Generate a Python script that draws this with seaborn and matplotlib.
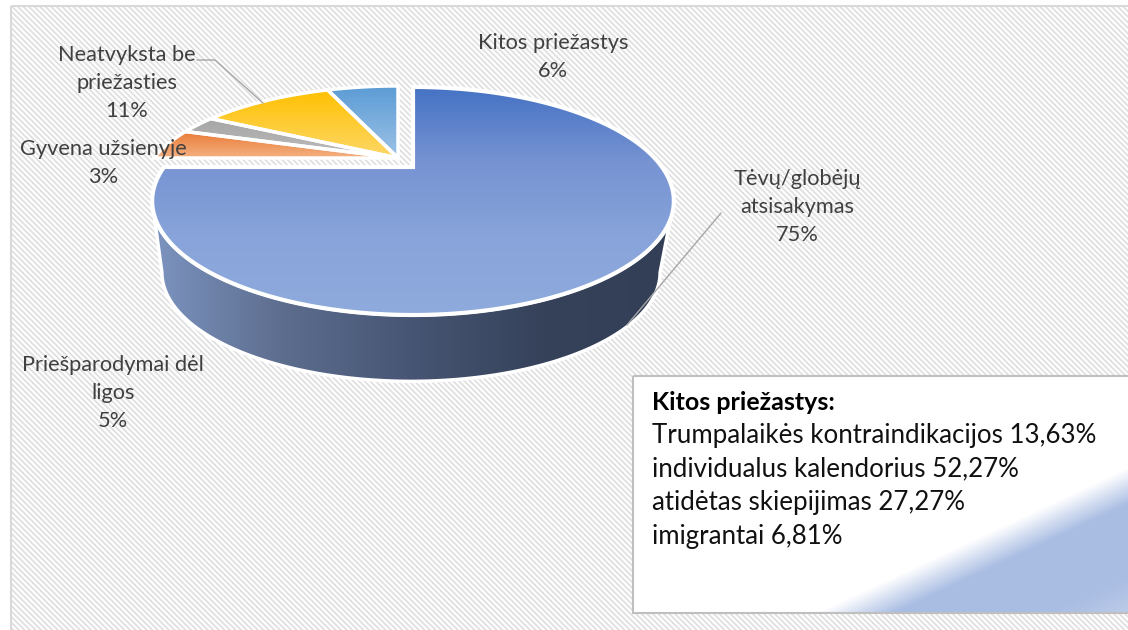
import numpy as np
import matplotlib.pyplot as plt
from matplotlib.patches import Polygon, Rectangle
import seaborn as sns

categories = ['Tėvų/globėjų\natsisakymas', 'Priešparodymai dėl\nligos', 'Gyvena užsienyje',
              'Neatvyksta be\npriežasties', 'Kitos priežastys']
values = [75, 5, 3, 11, 6]

box_title = 'Kitos priežastys:'
box_names = ['Trumpalaikės kontraindikacijos', 'individualus kalendorius',
             'atidėtas skiepijimas', 'imigrantai']
box_values = ['13,63%', '52,27%', '27,27%', '6,81%']

sns.set_theme(style='white')
plt.rcParams['font.family'] = ['Lato', 'DejaVu Sans']
plt.rcParams['hatch.linewidth'] = 1.3

# top-to-bottom gradient of each slice
slice_grads = [('#4472C4', '#7793D2', '#88A4DA', '#8FAADC'), ('#E97B35', '#F4B183'), ('#A5A5A5', '#BDBDBD'),
               ('#FFC000', '#FDD868'), ('#5B9BD5', '#9DC3E6')]
side_cmap = sns.blend_palette(['#7C94C0', '#5D6D8E', '#465573', '#36425A', '#333F56'], as_cmap=True)
box_cmap = sns.blend_palette(['#FFFFFF', '#A9BDE3', '#A9BDE3', '#A9BDE3', '#BCCBE8'], as_cmap=True)

fig = plt.figure(figsize=(11.28, 6.3), dpi=100)
ax = fig.add_axes([0, 0, 1, 1])
ax.set_xlim(0, 1128)
ax.set_ylim(630, 0)
ax.axis('off')


def project(frac, cx, cy, sx=1.0, sy=1.0):
    # circle seen in perspective, frac runs clockwise from the top
    a, b, k = 249, 103.9, 0.298
    X, Y = np.sin(2 * np.pi * frac), np.cos(2 * np.pi * frac)
    return cx + sx * a * X / (1 + k * Y), cy - sy * b * Y / (1 + k * Y)


def grad_fill(xs, ys, cmap, horizontal=False, z=2, lw=2.5):
    poly = Polygon(np.column_stack([xs, ys]), closed=True, facecolor='none', edgecolor='white',
                   linewidth=lw, zorder=z + 0.1)
    ax.add_patch(poly)
    g = np.linspace(0, 1, 256)
    g = g[None, :] if horizontal else g[:, None]
    im = ax.imshow(g, cmap=cmap, aspect='auto', zorder=z, interpolation='bilinear',
                   extent=[min(xs), max(xs), max(ys), min(ys)])
    im.set_clip_path(poly)


ax.add_patch(Rectangle((11, 6), 1130, 640, facecolor='white', edgecolor='#e0e0e0', linewidth=0,
                       hatch='\\\\\\\\\\\\', zorder=0))
ax.add_patch(Rectangle((11, 6), 1130, 640, facecolor='none', edgecolor='#d9d9d9',
                       linewidth=1.5, zorder=0.5))

# exploded small slices, behind the big one
edges = np.cumsum([0] + values) / sum(values)
for i in range(1, len(values)):
    f = np.linspace(edges[i], edges[i + 1], 40)
    x, y = project(f, 398, 158, 0.98, 0.9)
    grad_fill(np.r_[398, x], np.r_[158, y], sns.blend_palette(slice_grads[i], as_cmap=True), z=2)

# side wall of the big slice
k = 0.298
f = np.linspace(0.25 + np.arcsin(k) / (2 * np.pi), 0.75 - np.arcsin(k) / (2 * np.pi), 120)
tx, ty = project(f, 413, 167)
bx, by = project(f[::-1], 411, 240, 0.955, 0.955)
grad_fill(np.r_[tx, bx], np.r_[ty, by], side_cmap, horizontal=True, z=3)

# top of the big slice
f = np.linspace(edges[0], edges[1], 200)
x, y = project(f, 413, 167)
grad_fill(np.r_[413, x], np.r_[167, y], sns.blend_palette(slice_grads[0], as_cmap=True), z=4, lw=3)

# leader lines
ax.plot([197, 215, 263], [60, 60, 103], color='#a6a6a6', lw=1, zorder=5)
ax.plot([721, 627], [213, 325], color='#a6a6a6', lw=1, zorder=5)

# data labels
lab = dict(ha='center', va='center', fontsize=15.7, color='#404040', linespacing=1.48, zorder=6)
ax.text(797, 207, f'{categories[0]}\n{values[0]}%', **lab)
ax.text(113, 393, f'{categories[1]}\n{values[1]}%', **lab)
ax.text(103, 163, f'{categories[2]}\n{values[2]}%', **lab)
ax.text(127, 83, f'{categories[3]}\n{values[3]}%', **lab)
ax.text(553, 57, f'{categories[4]}\n{values[4]}%', **lab)

# text box with the gradient corner
bx0, bx1, by0, by1 = 633, 1128, 376, 613
yy, xx = np.mgrid[by0:by1, bx0:bx1]
t = ((xx - 817) * 145 + (yy - 612) * 311) / (70 * 145.0)
ax.add_patch(Rectangle((bx0, by0), bx1 - bx0 + 5, by1 - by0, facecolor='white', edgecolor='none', zorder=7))
ax.imshow(np.clip(t, 0, 4.44), cmap=box_cmap, vmin=0, vmax=4.44, aspect='auto', zorder=7.1,
          extent=[bx0, bx1, by1, by0])
ax.add_patch(Rectangle((bx0, by0), bx1 - bx0 + 5, by1 - by0, facecolor='none', edgecolor='#bfbfbf',
                       linewidth=1.5, zorder=7.2))
ax.set_xlim(0, 1128)
ax.set_ylim(630, 0)

ax.text(652, 402, box_title, fontsize=18, fontweight='bold', color='black', va='center', zorder=8)
for i, (n, v) in enumerate(zip(box_names, box_values)):
    ax.text(652, 435 + i * 33.7, f'{n} {v}', fontsize=18.6, color='#111111', va='center', zorder=8)

fig.savefig('out.png', dpi=100)
